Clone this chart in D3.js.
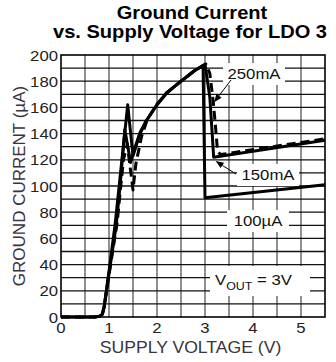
<!DOCTYPE html>
<html>
<head>
<meta charset="utf-8">
<script src="https://cdn.jsdelivr.net/npm/d3@7"></script>
<style>
  html, body { margin: 0; padding: 0; background: #fff; }
  svg { display: block; }
  text { font-family: "Liberation Sans", Arial, Helvetica, sans-serif; }
</style>
</head>
<body>
<svg id="chart" width="336" height="362"></svg>
<script>
// Ground current (µA) versus supply voltage (V), one series per load current
const series100uA_V = [0, 0.7, 0.8, 0.86, 0.9, 1.0, 1.125, 1.39, 1.5, 1.56, 1.65, 1.78, 2.0, 2.2, 2.5, 2.78, 2.96, 3.0, 5.5];
const series100uA_I = [0, 0, 0.5, 2, 8, 35, 70, 162, 123, 130, 141, 150, 162, 171, 180, 188, 192, 91, 101];

const series150mA_V = [0, 0.7, 0.8, 0.86, 0.9, 1.0, 1.15, 1.23, 1.33, 1.45, 1.52, 1.62, 1.78, 2.0, 2.2, 2.5, 2.78, 3.0, 3.1, 3.15, 3.18, 5.5];
const series150mA_I = [0, 0, 0.5, 2, 8, 33, 70, 100, 143, 118, 127, 138, 150, 162, 171, 180, 188, 193, 168, 140, 122, 135];

const series250mA_V = [0, 0.7, 0.8, 0.86, 0.9, 1.0, 1.17, 1.3, 1.38, 1.5, 1.56, 1.68, 1.8, 2.0, 2.2, 2.5, 2.78, 3.02, 3.1, 3.17, 3.22, 3.26, 3.32, 5.5];
const series250mA_I = [0, 0, 0.5, 2, 8, 32, 72, 120, 132, 97, 117, 138, 151, 162.5, 171, 180, 188, 193, 186, 165, 145, 127, 124, 136];

const seriesNames = ["100µA", "150mA", "250mA"];
const xTicks = [0, 1, 2, 3, 4, 5];
const yTicks = [0, 20, 40, 60, 80, 100, 120, 140, 160, 180, 200];
const titleLines = ["Ground Current", "vs. Supply Voltage for LDO 3"];
const xTitle = "SUPPLY VOLTAGE (V)";
const yTitle = "GROUND CURRENT (µA)";

const svg = d3.select("#chart");
const x = d3.scaleLinear().domain([0, 5.5]).range([61, 325]);
const y = d3.scaleLinear().domain([0, 200]).range([317, 55]);
const SX = 1.08; // horizontal stretch of the lettering

function put(sel, px, py) {
  return sel.attr("transform", `translate(${px},${py}) scale(${SX},1)`);
}

// grid: vertical every 0.5 V, horizontal every 10 µA
const grid = svg.append("g");
grid.selectAll("line.v").data(d3.range(1, 11).map(d => d * 0.5)).join("line")
  .attr("x1", d => x(d)).attr("x2", d => x(d))
  .attr("y1", y(200)).attr("y2", y(0))
  .attr("stroke", "#555").attr("stroke-width", 1.3);
grid.selectAll("line.h").data(d3.range(1, 20).map(d => d * 10)).join("line")
  .attr("y1", d => y(d)).attr("y2", d => y(d))
  .attr("x1", x(0)).attr("x2", x(5.5))
  .attr("stroke", "#111").attr("stroke-width", 1.3);
svg.append("rect")
  .attr("x", x(0)).attr("y", y(200))
  .attr("width", x(5.5) - x(0)).attr("height", y(0) - y(200))
  .attr("fill", "none").attr("stroke", "#000").attr("stroke-width", 1.6);

// label boxes knock out the grid
const boxes = [
  { text: "250mA", cx: 254, base: 79, w: 62, h: 22 },
  { text: "150mA", cx: 268, base: 180, w: 62, h: 22 },
  { text: "100µA", cx: 258, base: 226, w: 62, h: 22 }
];
boxes.forEach(b => {
  svg.append("rect").attr("x", b.cx - b.w / 2).attr("y", b.base - 16)
    .attr("width", b.w).attr("height", b.h).attr("fill", "#fff");
});
svg.append("rect").attr("x", 210).attr("y", 266).attr("width", 100).attr("height", 30).attr("fill", "#fff");

// curves
const line = d3.line().x(d => x(d[0])).y(d => y(d[1])).curve(d3.curveLinear);
const zip = (a, b) => a.map((v, i) => [v, b[i]]);
const curves = [
  { pts: zip(series100uA_V, series100uA_I), dash: null },
  { pts: zip(series150mA_V, series150mA_I), dash: null },
  { pts: zip(series250mA_V, series250mA_I), dash: "9,5" }
];
svg.append("g").selectAll("path").data(curves).join("path")
  .attr("d", d => line(d.pts))
  .attr("fill", "none").attr("stroke", "#000").attr("stroke-width", 3)
  .attr("stroke-linejoin", "round")
  .attr("stroke-dasharray", d => d.dash);

// series labels
boxes.forEach(b => {
  put(svg.append("text"), b.cx, b.base)
    .attr("text-anchor", "middle").attr("font-size", 15.5).attr("fill", "#111")
    .text(b.text);
});

// arrows to the 250mA and 150mA curves
function arrow(x1, y1, x2, y2) {
  const ang = Math.atan2(y2 - y1, x2 - x1);
  const L = 8, W = 3.2;
  const bx = x2 - L * Math.cos(ang), by = y2 - L * Math.sin(ang);
  svg.append("line").attr("x1", x1).attr("y1", y1).attr("x2", bx).attr("y2", by)
    .attr("stroke", "#000").attr("stroke-width", 1);
  const px = -Math.sin(ang) * W, py = Math.cos(ang) * W;
  svg.append("path")
    .attr("d", `M${x2},${y2}L${bx + px},${by + py}L${bx - px},${by - py}Z`)
    .attr("fill", "#000");
}
arrow(231, 80, x(3.17) + 1, y(164));
arrow(236, 174, x(3.2) + 1, y(119));

// V_OUT note
const vout = put(svg.append("text"), 215, 285).attr("font-size", 15.5).attr("fill", "#111");
vout.append("tspan").text("V");
vout.append("tspan").attr("font-size", 11.5).attr("dy", 5).text("OUT");
vout.append("tspan").attr("dy", -5).text(" = 3V");

// tick labels
yTicks.forEach(t => {
  put(svg.append("text"), 58, y(t) + 5.5)
    .attr("text-anchor", "end").attr("font-size", 15.5).attr("fill", "#222").text(t);
});
xTicks.forEach(t => {
  put(svg.append("text"), x(t), 333)
    .attr("text-anchor", "middle").attr("font-size", 15.5).attr("fill", "#222").text(t);
});

// axis titles
put(svg.append("text"), 190.5, 352.5)
  .attr("text-anchor", "middle").attr("font-size", 16.3).attr("fill", "#3a3340").text(xTitle);
svg.append("text")
  .attr("transform", "translate(24.5,186) rotate(-90)")
  .attr("text-anchor", "middle").attr("font-size", 17).attr("fill", "#3a3340").text(yTitle);

// title
put(svg.append("text"), 192, 19).attr("text-anchor", "middle")
  .attr("font-size", 18.6).attr("font-weight", "bold").attr("fill", "#000").text(titleLines[0]);
put(svg.append("text"), 190, 38).attr("text-anchor", "middle")
  .attr("font-size", 18.6).attr("font-weight", "bold").attr("fill", "#000").text(titleLines[1]);
</script>
</body>
</html>
